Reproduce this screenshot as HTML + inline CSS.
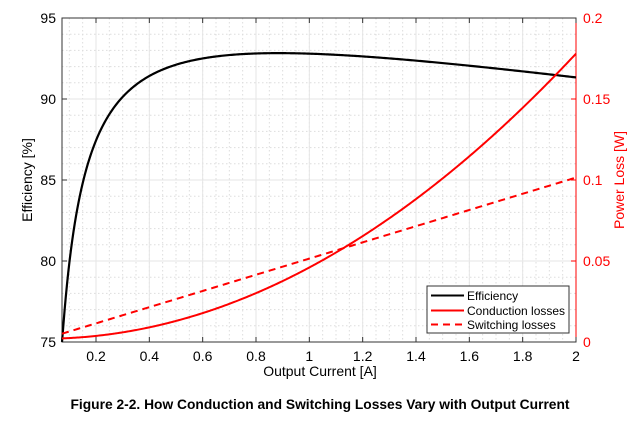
<!DOCTYPE html><html><head><style>body{margin:0;background:#fff}svg{display:block}text{font-family:"Liberation Sans",sans-serif}</style></head><body>
<svg id="s" width="640" height="424" xmlns="http://www.w3.org/2000/svg">
<g id="grid"></g>
<rect x="62" y="18" width="514" height="324" fill="none" stroke="#333" stroke-width="1"/>
<line x1="576" y1="18" x2="576" y2="342" stroke="#f00" stroke-width="1"/>
<g id="ticks"></g>
<path id="eff" fill="none" stroke="#000" stroke-width="2.2"/>
<path id="cond" fill="none" stroke="#f00" stroke-width="2"/>
<path id="sw" fill="none" stroke="#f00" stroke-width="2" stroke-dasharray="7,5"/>
<g font-size="14">
<text x="56" y="23" text-anchor="end">95</text><text x="56" y="104" text-anchor="end">90</text><text x="56" y="185" text-anchor="end">85</text><text x="56" y="266" text-anchor="end">80</text><text x="56" y="347" text-anchor="end">75</text>
<g fill="#f00"><text x="583" y="23">0.2</text><text x="583" y="104">0.15</text><text x="583" y="185">0.1</text><text x="583" y="266">0.05</text><text x="583" y="347">0</text></g>
<g id="xl" text-anchor="middle"></g>
<text x="320" y="376" text-anchor="middle">Output Current [A]</text>
<text transform="translate(32,180) rotate(-90)" text-anchor="middle">Efficiency [%]</text>
<text transform="translate(624,180) rotate(-90)" text-anchor="middle" fill="#f00">Power Loss [W]</text>
</g>
<rect x="427" y="286" width="142" height="47" fill="#fff" stroke="#333" stroke-width="1"/>
<line x1="431" y1="295.5" x2="464" y2="295.5" stroke="#000" stroke-width="2"/>
<line x1="431" y1="310.5" x2="464" y2="310.5" stroke="#f00" stroke-width="2"/>
<line x1="431" y1="324.5" x2="464" y2="324.5" stroke="#f00" stroke-width="2" stroke-dasharray="7,5"/>
<g font-size="12"><text x="467" y="300">Efficiency</text><text x="467" y="315">Conduction losses</text><text x="467" y="329">Switching losses</text></g>
<text x="320" y="409" text-anchor="middle" font-size="13.8" font-weight="bold">Figure 2-2. How Conduction and Switching Losses Vary with Output Current</text>
</svg>
<script>
var x0=0.0725,X=function(v){return 62+(v-x0)/(2-x0)*514};
var YL=function(v){return 342-(v-75)/20*324},YR=function(v){return 342-v/0.2*324};
var g='',t='',xl='';
for(var v=0.1;v<2.0001;v+=0.05){var p=X(v);g+='<line x1="'+p+'" y1="18" x2="'+p+'" y2="342" stroke="#ddd" stroke-dasharray="1.5,2.5"/>';}
for(var v=76;v<95;v++){var p=YL(v);g+='<line x1="62" y1="'+p+'" x2="576" y2="'+p+'" stroke="#ddd" stroke-dasharray="1.5,2.5"/>';}
for(var i=1;i<=10;i++){var v=i*0.2,p=X(v);g+='<line x1="'+p+'" y1="18" x2="'+p+'" y2="342" stroke="#e6e6e6"/>';t+='<line x1="'+p+'" y1="342" x2="'+p+'" y2="337" stroke="#333"/><line x1="'+p+'" y1="18" x2="'+p+'" y2="23" stroke="#333"/>';xl+='<text x="'+p+'" y="361">'+(Math.round(v*10)/10)+'</text>';}
for(var v=80;v<95;v+=5){var p=YL(v);g+='<line x1="62" y1="'+p+'" x2="576" y2="'+p+'" stroke="#e6e6e6"/>';t+='<line x1="62" y1="'+p+'" x2="67" y2="'+p+'" stroke="#333"/><line x1="571" y1="'+p+'" x2="576" y2="'+p+'" stroke="#f00"/>';}
document.getElementById('grid').innerHTML=g;document.getElementById('ticks').innerHTML=t;document.getElementById('xl').innerHTML=xl;
var e='',c='',s='';
for(var i=0;i<=400;i++){var I=x0+(2-x0)*i/400;var ef=100*I/(1.027*I+0.0222+0.0284*I*I);
e+=(i?'L':'M')+X(I).toFixed(2)+' '+YL(Math.max(ef,75)).toFixed(2);
c+=(i?'L':'M')+X(I).toFixed(2)+' '+YR(0.002+0.044*I*I).toFixed(2);
s+=(i?'L':'M')+X(I).toFixed(2)+' '+YR(0.0015+0.05*I).toFixed(2);}
document.getElementById('eff').setAttribute('d',e);document.getElementById('cond').setAttribute('d',c);document.getElementById('sw').setAttribute('d',s);
</script>
</body></html>
